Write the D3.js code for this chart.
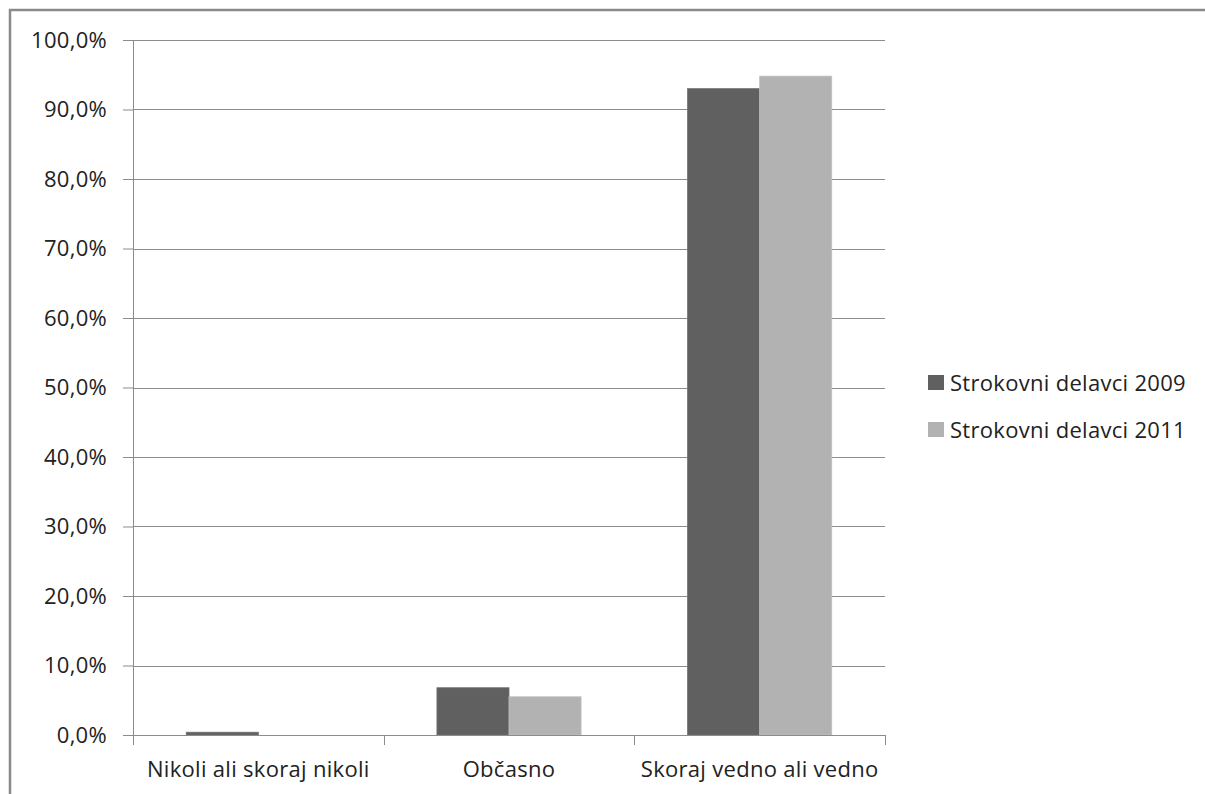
<!DOCTYPE html>
<html lang="sl">
<head>
<meta charset="UTF-8">
<title>Strokovni delavci</title>
<style>
  body { margin: 0; background: #fff; }
  svg text { font-family: "Open Sans", "DejaVu Sans", sans-serif; fill: #222; letter-spacing: 0.3px; }
</style>
</head>
<body>
<div id="wrapper"></div>
<script src="https://d3js.org/d3.v7.min.js"></script>
<script>
  const categories = ["Nikoli ali skoraj nikoli", "Občasno", "Skoraj vedno ali vedno"];
  const seriesNames = ["Strokovni delavci 2009", "Strokovni delavci 2011"];
  const values2009 = [0.4, 6.8, 93.0];
  const values2011 = [0.0, 5.5, 94.8];
  const yTicks = [0, 10, 20, 30, 40, 50, 60, 70, 80, 90, 100];
  const colors = ["#606060", "#b2b2b2"];

  const fontSize = "22px";

  const dimensions = {
    width: 1205,
    height: 794,
    margin: { top: 40, right: 320, bottom: 59, left: 133 },
  };
  dimensions.boundedWidth = dimensions.width - dimensions.margin.left - dimensions.margin.right;
  dimensions.boundedHeight = dimensions.height - dimensions.margin.top - dimensions.margin.bottom;

  const wrapper = d3.select("#wrapper").append("svg")
    .attr("width", dimensions.width)
    .attr("height", dimensions.height);

  // outer frame of chart
  wrapper.append("rect")
    .attr("x", 10).attr("y", 10)
    .attr("width", 1210).attr("height", 800)
    .attr("fill", "none")
    .attr("stroke", "#8a8a8a")
    .attr("stroke-width", 2.5);

  const bounds = wrapper.append("g")
    .attr("transform", `translate(${dimensions.margin.left},${dimensions.margin.top})`);

  // band per category
  const catScale = d3.scaleBand().domain(categories).range([0, dimensions.boundedWidth]);

  const yScale = d3.scaleLinear().domain([0, 100]).range([dimensions.boundedHeight, 0]);

  // grid lines
  bounds.append("g")
    .selectAll("line")
    .data(yTicks)
    .join("line")
    .attr("x1", 0)
    .attr("x2", dimensions.boundedWidth)
    .attr("y1", d => Math.round(yScale(d)) + 0.5)
    .attr("y2", d => Math.round(yScale(d)) + 0.5)
    .attr("stroke", "#8c8c8c")
    .attr("stroke-width", 1);

  // bars (two series side by side, gap = 0.2125 band on each side)
  const barData = [values2009, values2011];
  const inner = d3.scaleBand().domain([0, 1]).range([0, catScale.bandwidth() * 0.575]);
  barData.forEach((vals, si) => {
    bounds.append("g")
      .selectAll("rect")
      .data(categories)
      .join("rect")
      .attr("x", (d) => catScale(d) + catScale.bandwidth() * 0.2125 + inner(si))
      .attr("width", inner.bandwidth())
      .attr("y", (d, i) => yScale(vals[i]))
      .attr("height", (d, i) => yScale(0) - yScale(vals[i]))
      .attr("fill", colors[si])
      .attr("stroke", si === 0 ? "#707070" : "#c0c0c0")
      .attr("stroke-width", 0.8);
  });

  // Y axis
  const yAxisGenerator = d3.axisLeft(yScale)
    .tickValues(yTicks)
    .tickSize(10)
    .tickPadding(16)
    .tickFormat(d => d3.format(".1f")(d).replace(".", ",") + "%");
  const yAxis = bounds.append("g").call(yAxisGenerator);
  yAxis.select(".domain").attr("stroke", "#8c8c8c").attr("d", `M0.5,0V${dimensions.boundedHeight}`);
  yAxis.selectAll(".tick line").attr("stroke", "#8c8c8c");
  yAxis.selectAll("text").style("font-size", fontSize).attr("fill", "#222");

  // X axis
  const xAxisGenerator = d3.axisBottom(catScale).tickSize(0).tickPadding(26);
  const xAxis = bounds.append("g")
    .attr("transform", `translate(0,${dimensions.boundedHeight})`)
    .call(xAxisGenerator);
  xAxis.select(".domain").attr("stroke", "#8c8c8c");
  xAxis.selectAll("text").style("font-size", fontSize).attr("fill", "#222");

  // category separator ticks
  const sepTicks = categories.map(d => catScale(d)).concat([dimensions.boundedWidth]);
  xAxis.append("g")
    .selectAll("line")
    .data(sepTicks)
    .join("line")
    .attr("x1", d => Math.round(d) + 0.5)
    .attr("x2", d => Math.round(d) + 0.5)
    .attr("y1", 0)
    .attr("y2", 10)
    .attr("stroke", "#8c8c8c");

  // legend
  const legend = wrapper.append("g").attr("transform", "translate(928,375)");
  seriesNames.forEach((name, i) => {
    const row = legend.append("g").attr("transform", `translate(0,${i * 47})`);
    row.append("rect")
      .attr("width", 16).attr("height", 15)
      .attr("fill", colors[i]);
    row.append("text")
      .attr("x", 22).attr("y", 8)
      .attr("dy", "0.35em")
      .style("font-size", fontSize)
      .text(name);
  });
</script>
</body>
</html>
